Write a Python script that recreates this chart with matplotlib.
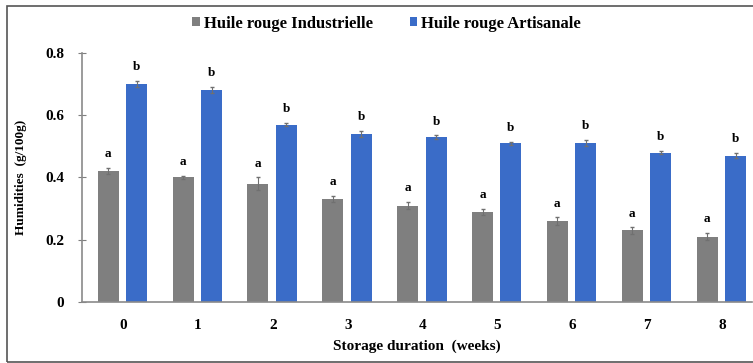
import numpy as np
import matplotlib
matplotlib.use('Agg')
import matplotlib.pyplot as plt
from matplotlib.patches import Rectangle

weeks = ['0', '1', '2', '3', '4', '5', '6', '7', '8']
industrielle = [0.42, 0.40, 0.38, 0.33, 0.31, 0.29, 0.26, 0.23, 0.21]
industrielle_err = [0.01, 0.005, 0.02, 0.01, 0.012, 0.01, 0.012, 0.01, 0.012]
artisanale = [0.70, 0.68, 0.57, 0.54, 0.53, 0.51, 0.51, 0.48, 0.47]
artisanale_err = [0.01, 0.01, 0.005, 0.01, 0.005, 0.005, 0.01, 0.005, 0.008]
letters_ind = ['a'] * 9
letters_art = ['b'] * 9

plt.rcParams['font.family'] = ['Liberation Serif', 'DejaVu Serif']
plt.rcParams['font.weight'] = 'bold'

fig = plt.figure(figsize=(7.53, 3.63), dpi=100)
ax = fig.add_axes([82/753, 61/363, 670/753, 249/363])

x = np.arange(len(weeks))
w = 0.28
gray = '#7f7f7f'
blue = '#3a6cc8'
ax.bar(x - 0.2, industrielle, w, color=gray, yerr=industrielle_err,
       error_kw=dict(ecolor='#707070', elinewidth=0.8, capsize=1.5), label='Huile rouge Industrielle', zorder=2)
ax.bar(x + 0.18, artisanale, w, color=blue, yerr=artisanale_err,
       error_kw=dict(ecolor='#707070', elinewidth=0.8, capsize=1.5), label='Huile rouge Artisanale', zorder=2)

for i in range(len(weeks)):
    ax.text(x[i] - 0.2, industrielle[i] + industrielle_err[i] + 0.025, letters_ind[i],
            ha='center', va='bottom', fontsize=9.5, fontweight='bold')
    ax.text(x[i] + 0.18, artisanale[i] + artisanale_err[i] + 0.025, letters_art[i],
            ha='center', va='bottom', fontsize=9.5, fontweight='bold')

ax.set_ylim(0, 0.8)
ax.set_xlim(-0.55, 8.4)
ax.set_yticks([0, 0.2, 0.4, 0.6, 0.8])
ax.set_yticklabels(['0', '0.2', '0.4', '0.6', '0.8'])
ax.set_xticks(x)
ax.set_xticklabels(weeks)
ax.tick_params(axis='y', direction='inout', length=6, color='#7f7f7f', labelsize=11, pad=10)
ax.tick_params(axis='x', length=0, labelsize=11, pad=12)
for s in ['top', 'right']:
    ax.spines[s].set_visible(False)
for s in ['left', 'bottom']:
    ax.spines[s].set_color('#8a8a8a')
    ax.spines[s].set_linewidth(1.2)

ax.set_ylabel('Humidities  (g/100g)', fontsize=9.5, fontweight='bold', labelpad=13)
ax.set_xlabel('Storage duration  (weeks)', fontsize=11, fontweight='bold', labelpad=6)

ax.legend(loc='upper center', bbox_to_anchor=(0.455, 1.21), ncol=2, frameon=False,
          fontsize=12, handlelength=0.45, handleheight=0.45, handletextpad=0.25, columnspacing=2.2)

fig.patches.append(Rectangle((7/753, 1/363), 1.0, 356/363, transform=fig.transFigure,
                             fill=False, edgecolor='#555555', linewidth=1.2))

fig.savefig('out.png', dpi=100)
